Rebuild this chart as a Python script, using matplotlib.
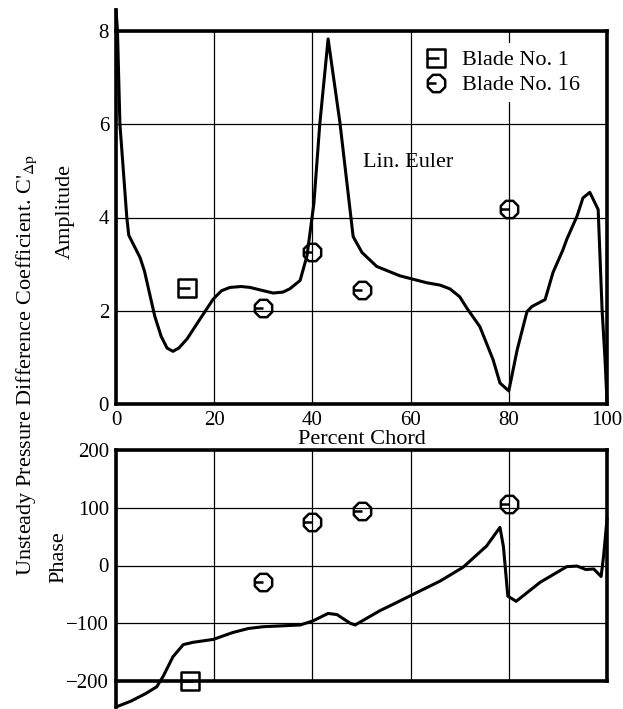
import numpy as np
import matplotlib
matplotlib.use("Agg")
import matplotlib.pyplot as plt
from matplotlib.path import Path
from matplotlib.lines import Line2D

plt.rcParams['font.family'] = ['Liberation Serif', 'DejaVu Serif']
plt.rcParams['mathtext.fontset'] = 'stix'

# ---- data ----
chord = [0, 0.3, 0.8, 2.2, 2.6, 4.9, 5.8, 7.9, 9.2, 10.4, 11.6, 12.8, 14.5, 17.1,
         19.8, 21.5, 23.2, 25.5, 27.3, 30, 32, 34, 35.4, 37.5, 38.9, 40.3, 41.5,
         43.2, 45.6, 48.3, 50.1, 53.1, 57.8, 63.3, 66, 68, 70, 71.5, 74.1, 76.8,
         78.2, 80, 81.7, 83.7, 84.7, 87.4, 89, 91, 91.8, 93.9, 95.1, 96.5, 98.2,
         99, 99.6, 100]
amplitude = [8.45, 8.0, 6.0, 4.0, 3.62, 3.14, 2.85, 1.88, 1.45, 1.2, 1.13, 1.2, 1.4,
             1.82, 2.25, 2.43, 2.5, 2.52, 2.5, 2.43, 2.38, 2.4, 2.47, 2.65, 3.18,
             4.3, 6.0, 7.83, 6.04, 3.59, 3.25, 2.95, 2.75, 2.6, 2.55, 2.47, 2.3,
             2.05, 1.66, 0.95, 0.45, 0.28, 1.16, 1.98, 2.09, 2.24, 2.82, 3.3, 3.53,
             4.03, 4.42, 4.54, 4.17, 2.02, 0.95, 0.05]

chord_ph = [0, 3, 6, 8.3, 9.6, 11.6, 13.7, 15.7, 19.8, 23.8, 27, 30, 37.5, 40.1,
            43.2, 45, 47.7, 48.7, 53.8, 57.2, 60.5, 66, 70.7, 75.5, 78.2, 78.9,
            79.8, 81.5, 86.4, 91.8, 93.9, 95.7, 97.3, 98.8, 99.3, 100]
phase = [-245, -235, -222, -210, -192, -158, -137, -133, -128, -116, -109, -106,
         -103, -96, -83, -85, -100, -103, -78, -64, -50, -27, -3, 34, 66, 33,
         -53, -62, -29, -2, -1, -7, -6, -19, 16, 80]

blade1_x = [14.5]
blade1_amp = [2.49]
blade1_phase_x = [15]
blade1_phase = [-200]

blade16_x = [30, 40, 50, 80]
blade16_amp = [2.06, 3.27, 2.45, 4.19]
blade16_phase = [-29, 76, 94, 107]

xticks = [0, 20, 40, 60, 80, 100]
amp_ticks = [0, 2, 4, 6, 8]
phase_ticks = [-200, -100, 0, 100, 200]

# ---- custom markers ----
def octagon_marker():
    ang = np.deg2rad(22.5 + 45 * np.arange(8))
    verts = [(np.cos(a), np.sin(a)) for a in ang]
    verts = verts + [verts[0], (-1.0, 0.0), (0.0, 0.0)]
    codes = [Path.MOVETO] + [Path.LINETO] * 7 + [Path.CLOSEPOLY, Path.MOVETO, Path.LINETO]
    return Path(verts, codes)

def square_marker():
    verts = [(-1, -1), (1, -1), (1, 1), (-1, 1), (-1, -1), (-1, 0), (0.3, 0)]
    codes = [Path.MOVETO, Path.LINETO, Path.LINETO, Path.LINETO, Path.CLOSEPOLY,
             Path.MOVETO, Path.LINETO]
    return Path(verts, codes)

OCT = octagon_marker()
SQ = square_marker()

mk = dict(linestyle='none', markerfacecolor='none', markeredgecolor='black',
          markeredgewidth=1.8, markersize=13.5)

fig = plt.figure(figsize=(6.23, 7.09), dpi=100)
ax1 = fig.add_axes([116/623, 1-404/709, 491/623, 373/709])
ax2 = fig.add_axes([116/623, 1-681/709, 491/623, 231/709])

for ax in (ax1, ax2):
    ax.set_xlim(0, 100)
    ax.set_xticks(xticks)
    ax.grid(True, color='black', linewidth=0.9)
    ax.set_axisbelow(True)
    ax.tick_params(length=0, labelsize=15, pad=5)
    for s in ax.spines.values():
        s.set_linewidth(2.6)

# top panel
ax1.set_ylim(0, 8)
ax1.set_yticks(amp_ticks)
ax1.plot(chord, amplitude, color='black', lw=2.2, clip_on=False, zorder=4)
ax1.plot(blade1_x, blade1_amp, marker=SQ, zorder=5, clip_on=False, **mk)
ax1.plot(blade16_x, blade16_amp, marker=OCT, zorder=5, clip_on=False, **mk)
ax1.spines['left'].set_bounds(0, 8.45)
ax1.set_xlabel('Percent Chord', fontsize=16, labelpad=0)
ax1.text(59.5, 5.18, 'Lin. Euler', fontsize=16, ha='center', va='center')
ax1.set_ylabel('Amplitude', fontsize=16, va='center')
ax1.yaxis.set_label_coords(-0.104, 0.517)

handles = [Line2D([], [], marker=SQ, **mk), Line2D([], [], marker=OCT, **mk)]
leg = ax1.legend(handles, ['Blade No. 1', 'Blade No. 16'], loc='upper left',
                 bbox_to_anchor=(0.592, 0.997), fontsize=16, frameon=True,
                 facecolor='white', edgecolor='none', framealpha=1,
                 handlelength=1.0, handletextpad=0.7, labelspacing=0.2,
                 borderpad=0.3)

# bottom panel
ax2.set_ylim(-200, 200)
ax2.set_yticks(phase_ticks)
ax2.tick_params(axis='x', labelbottom=False)
ax2.plot(chord_ph, phase, color='black', lw=2.2, clip_on=False, zorder=4)
ax2.plot(blade1_phase_x, blade1_phase, marker=SQ, zorder=5, clip_on=False, **mk)
ax2.plot(blade16_x, blade16_phase, marker=OCT, zorder=5, clip_on=False, **mk)
ax2.spines['left'].set_bounds(-245, 200)
ax2.set_ylabel('Phase', fontsize=16, va='center')
ax2.yaxis.set_label_coords(-0.116, 0.537)

fig.text(27/623, 1-365/709,
         r"Unsteady Pressure Difference Coefficient. C$'_{\Delta\mathrm{p}}$",
         rotation=90, fontsize=16, ha='center', va='center')

fig.savefig('out.png', dpi=100)
